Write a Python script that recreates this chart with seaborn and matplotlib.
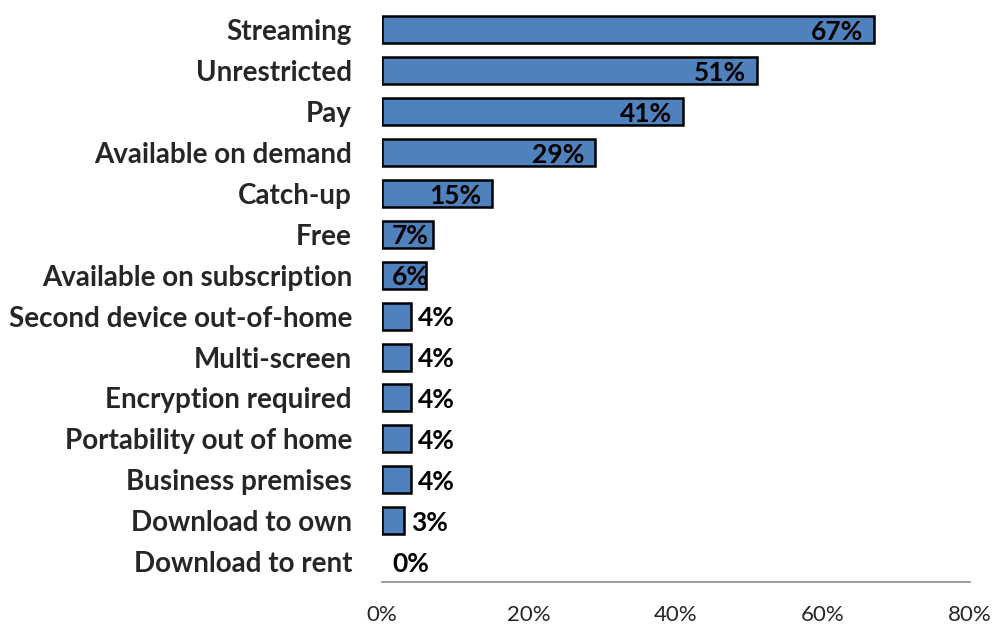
import matplotlib
matplotlib.use("Agg")
import matplotlib.pyplot as plt
import seaborn as sns
import pandas as pd
import numpy as np

categories = ["Streaming", "Unrestricted", "Pay", "Available on demand", "Catch-up", "Free",
              "Available on subscription", "Second device out-of-home", "Multi-screen",
              "Encryption required", "Portability out of home", "Business premises",
              "Download to own", "Download to rent"]
values = [67, 51, 41, 29, 15, 7, 6, 4, 4, 4, 4, 4, 3, 0]
x_ticks = [0, 20, 40, 60, 80]
x_tick_labels = ["0%", "20%", "40%", "60%", "80%"]

df = pd.DataFrame({"category": categories, "value": values})

sns.set_theme(style="white")
plt.rcParams["font.family"] = ["Lato", "DejaVu Sans"]

fig = plt.figure(figsize=(9.95, 6.26), dpi=100)
ax = fig.add_axes([0.3839, 0.0703, 0.5910, 0.9145])

sns.barplot(data=df, x="value", y="category", orient="h", color="#4F81BD",
            saturation=1, edgecolor="black", linewidth=1.8, width=0.66, ax=ax)
# hide the outline of empty bars
for p in ax.patches:
    if p.get_width() == 0:
        p.set_linewidth(0)

# labels: inside end for longer bars, outside for short ones
for i, v in enumerate(values):
    if v >= 6:
        ax.text(max(v - 1.5, 6.4), i + 0.05, f"{v}%", ha="right", va="center",
                fontsize=19, fontweight="bold", color="black")
    else:
        ax.text(v + 0.9 if v > 0 else 1.4, i + 0.05, f"{v}%", ha="left", va="center",
                fontsize=19, fontweight="bold", color="black")

ax.set_xlim(0, 80)
ax.set_ylim(len(categories) - 0.5, -0.5)
ax.set_xticks(x_ticks)
ax.set_xticklabels(x_tick_labels, fontsize=16)
ax.tick_params(axis="x", length=0, pad=16.5)
ax.tick_params(axis="y", length=0, pad=21.5)
for lbl in ax.get_yticklabels():
    lbl.set_fontsize(20)
    lbl.set_fontweight("bold")
ax.set_xlabel("")
ax.set_ylabel("")
for s in ["top", "right", "left"]:
    ax.spines[s].set_visible(False)
ax.spines["bottom"].set_color("#8c8c8c")
ax.spines["bottom"].set_linewidth(1.2)

fig.savefig("out.png", dpi=100)
